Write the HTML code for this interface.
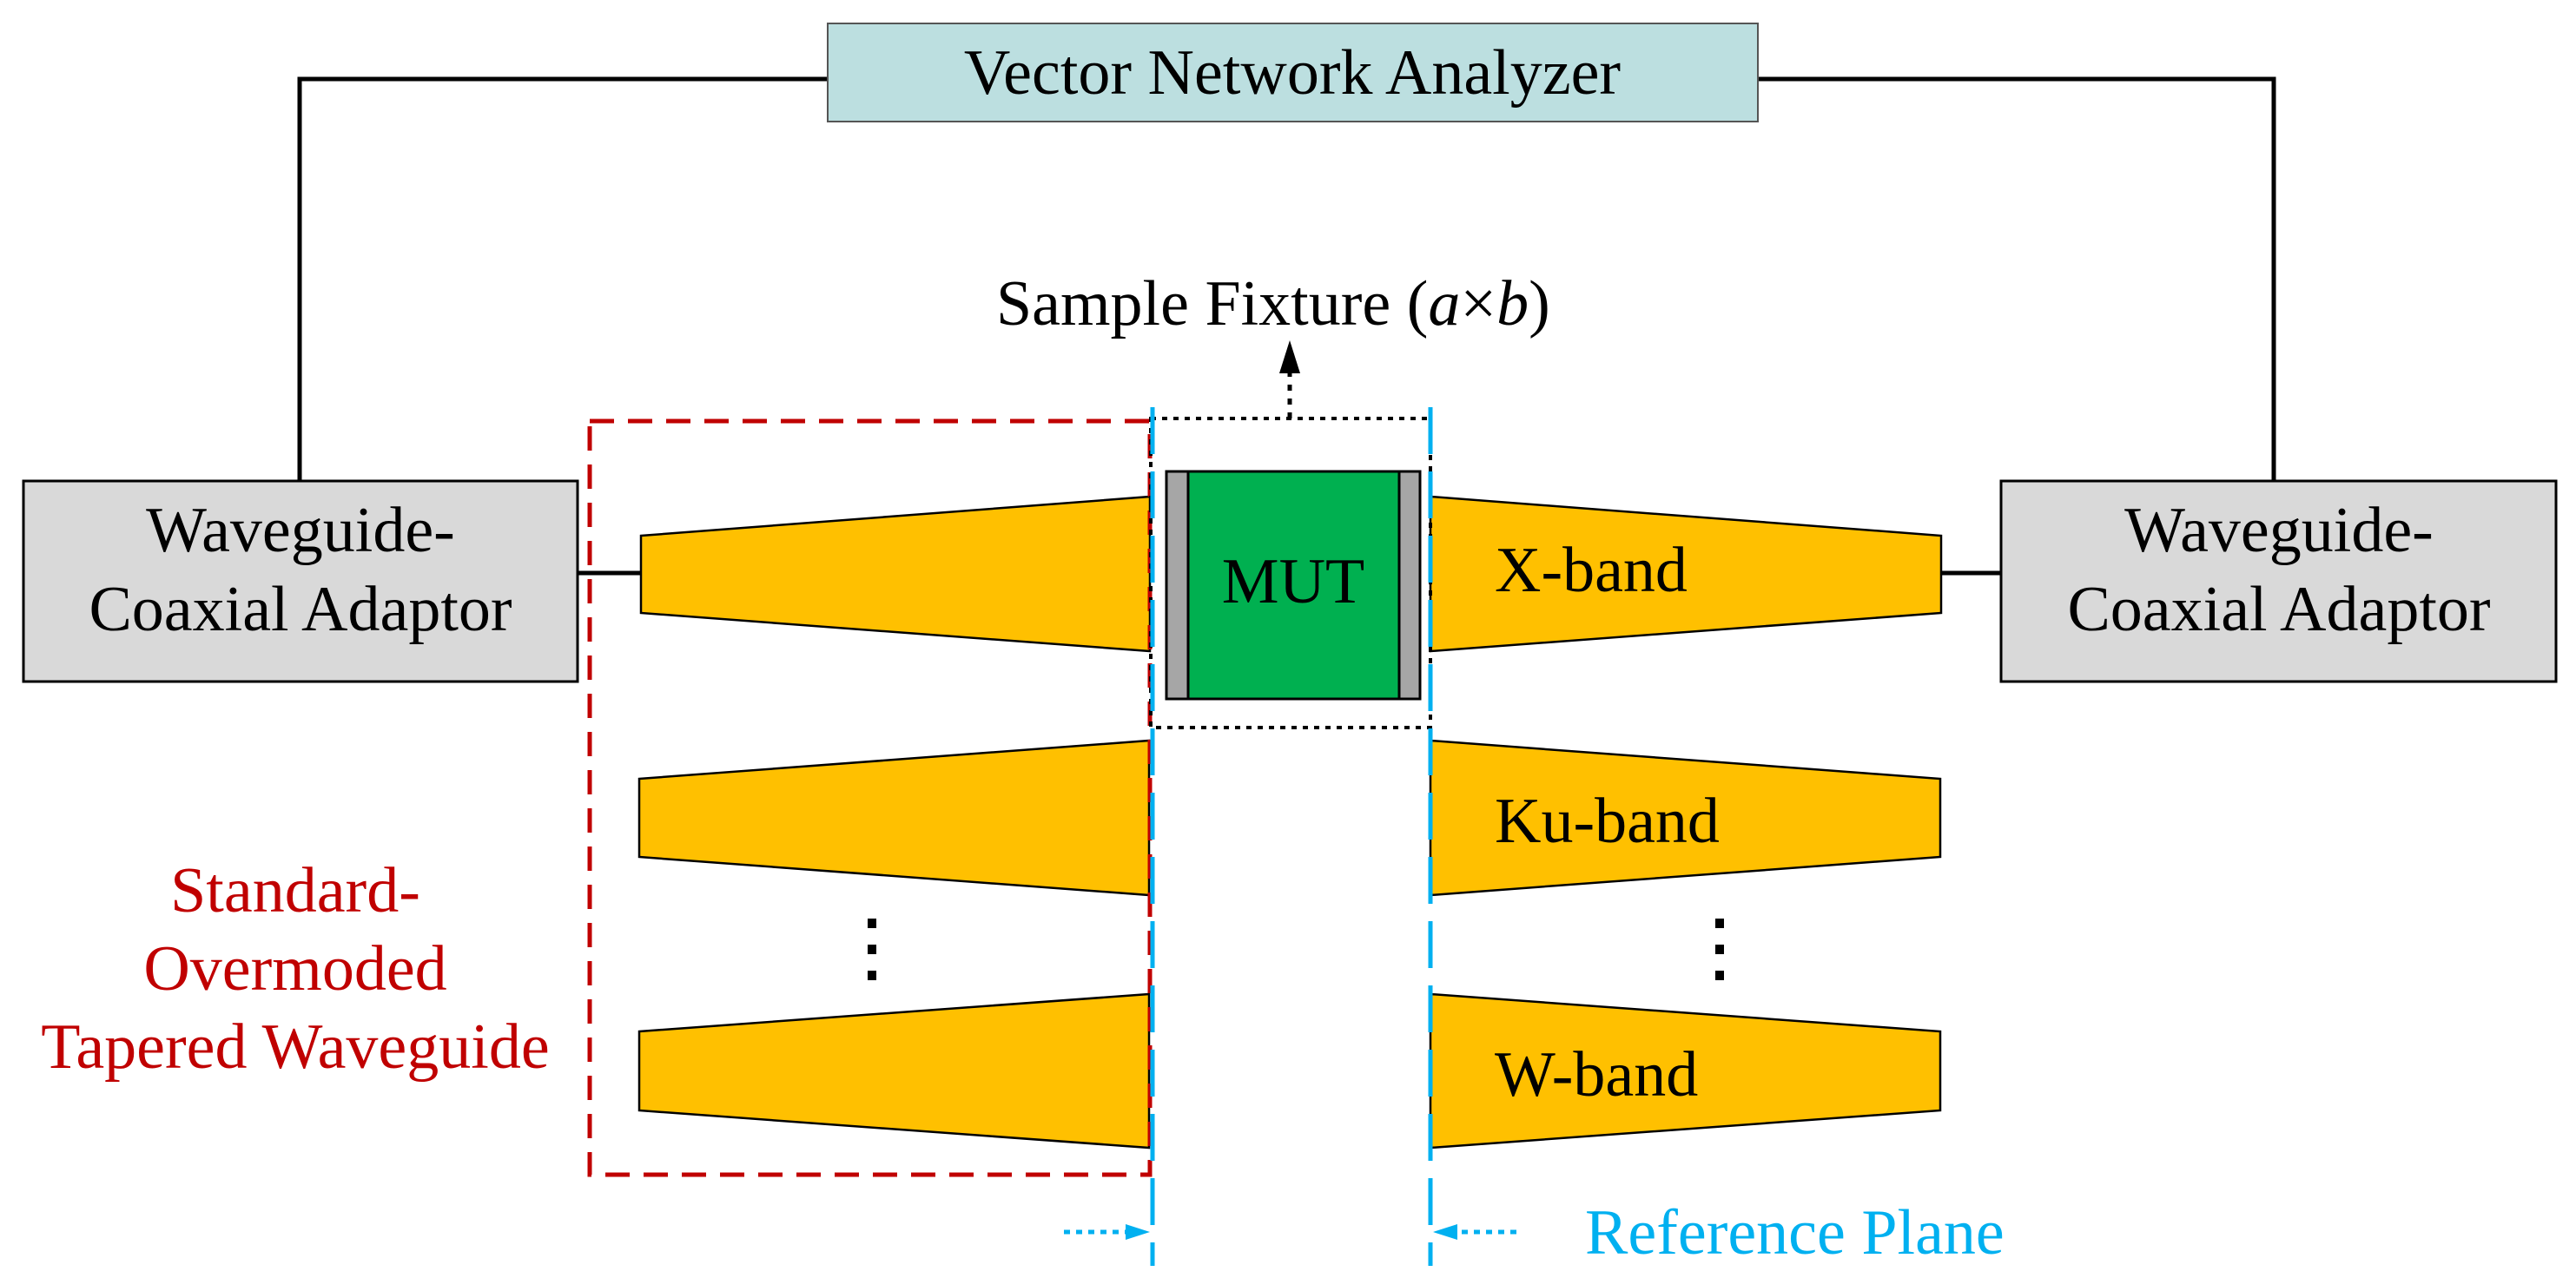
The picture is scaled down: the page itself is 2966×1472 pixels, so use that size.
<!DOCTYPE html>
<html><head><meta charset="utf-8"><style>
html,body{margin:0;padding:0;background:#fff;}
svg{display:block;}
text{font-family:"Liberation Serif",serif;font-size:74px;}
</style></head><body>
<svg width="2966" height="1472" viewBox="0 0 2966 1472" xmlns="http://www.w3.org/2000/svg">
<!-- connection lines -->
<polyline points="953,91 345,91 345,553" fill="none" stroke="#000" stroke-width="5"/>
<polyline points="2024,91 2618,91 2618,553" fill="none" stroke="#000" stroke-width="5"/>
<line x1="665" y1="660" x2="738" y2="660" stroke="#000" stroke-width="5"/>
<line x1="2235" y1="660" x2="2304" y2="660" stroke="#000" stroke-width="5"/>
<!-- VNA -->
<rect x="953" y="27" width="1071" height="113" fill="#bcdfe0" stroke="#555" stroke-width="2"/>
<text x="1488" y="108" text-anchor="middle">Vector Network Analyzer</text>
<!-- adaptors -->
<rect x="27" y="554" width="638" height="231" fill="#d9d9d9" stroke="#000" stroke-width="3"/>
<text x="346" y="635" text-anchor="middle">Waveguide-</text>
<text x="346" y="726" text-anchor="middle">Coaxial Adaptor</text>
<rect x="2304" y="554" width="639" height="231" fill="#d9d9d9" stroke="#000" stroke-width="3"/>
<text x="2624" y="635" text-anchor="middle">Waveguide-</text>
<text x="2624" y="726" text-anchor="middle">Coaxial Adaptor</text>
<!-- left tapers -->
<g fill="#ffc000" stroke="#000" stroke-width="2.5">
<polygon points="738,617 1324,572 1324,750 738,706"/>
<polygon points="736,897 1323,853 1323,1031 736,987"/>
<polygon points="736,1188 1323,1145 1323,1322 736,1279"/>
<polygon points="1647,572 2235,617 2235,706 1647,750"/>
<polygon points="1647,853 2234,897 2234,987 1647,1031"/>
<polygon points="1647,1145 2234,1188 2234,1279 1647,1322"/>
</g>
<text x="1721" y="681">X-band</text>
<text x="1721" y="970">Ku-band</text>
<text x="1721" y="1262">W-band</text>
<!-- vertical dots -->
<g fill="#000">
<rect x="999" y="1058" width="10" height="11"/><rect x="999" y="1088" width="10" height="11"/><rect x="999" y="1118" width="10" height="11"/>
<rect x="1975" y="1058" width="10" height="11"/><rect x="1975" y="1088" width="10" height="11"/><rect x="1975" y="1118" width="10" height="11"/>
</g>
<!-- red dashed box -->
<rect x="679" y="485" width="645" height="868" fill="none" stroke="#c00000" stroke-width="5" stroke-dasharray="28,16"/>
<text x="340" y="1050" text-anchor="middle" fill="#c00000">Standard-</text>
<text x="340" y="1140" text-anchor="middle" fill="#c00000">Overmoded</text>
<text x="340" y="1230" text-anchor="middle" fill="#c00000">Tapered Waveguide</text>
<!-- fixture dotted box -->
<rect x="1325" y="482" width="322" height="356" fill="none" stroke="#000" stroke-width="4" stroke-dasharray="6,7"/>
<line x1="1485" y1="482" x2="1485" y2="430" stroke="#000" stroke-width="5" stroke-dasharray="7,9"/>
<polygon points="1485,392 1473,430 1497,430" fill="#000"/>
<text x="1147" y="374">Sample Fixture (<tspan font-style="italic">a</tspan>×<tspan font-style="italic">b</tspan>)</text>
<!-- MUT -->
<rect x="1343" y="543" width="25" height="262" fill="#a6a6a6" stroke="#000" stroke-width="3"/>
<rect x="1368" y="543" width="243" height="262" fill="#00b050" stroke="#000" stroke-width="3"/>
<rect x="1611" y="543" width="24" height="262" fill="#a6a6a6" stroke="#000" stroke-width="3"/>
<text x="1489" y="694" text-anchor="middle">MUT</text>
<!-- reference planes -->
<line x1="1327" y1="469" x2="1327" y2="1458" stroke="#00b0f0" stroke-width="5" stroke-dasharray="54,20"/>
<line x1="1647" y1="469" x2="1647" y2="1458" stroke="#00b0f0" stroke-width="5" stroke-dasharray="54,20"/>
<line x1="1225" y1="1419" x2="1300" y2="1419" stroke="#00b0f0" stroke-width="5" stroke-dasharray="7,7"/>
<polygon points="1324,1419 1296,1410 1296,1428" fill="#00b0f0"/>
<line x1="1746" y1="1419" x2="1674" y2="1419" stroke="#00b0f0" stroke-width="5" stroke-dasharray="7,7"/>
<polygon points="1650,1419 1678,1410 1678,1428" fill="#00b0f0"/>
<text x="1825" y="1444" fill="#00b0f0">Reference Plane</text>
</svg>
</body></html>
